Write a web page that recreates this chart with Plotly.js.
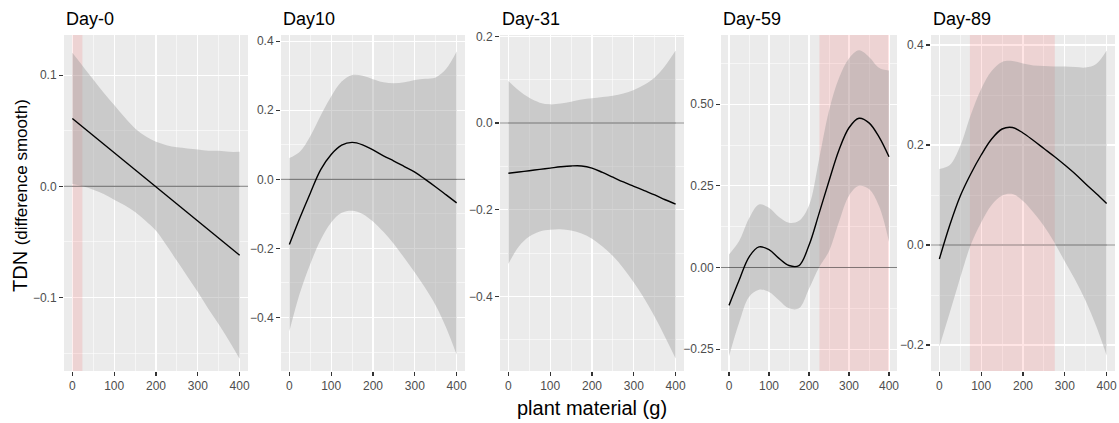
<!DOCTYPE html>
<html>
<head>
<meta charset="utf-8">
<script src="https://cdn.plot.ly/plotly-3.0.1.min.js"></script>
<style>html,body{margin:0;padding:0;background:#fff;}#chart{width:1119px;height:423px;}</style>
</head>
<body>
<div id="chart"></div>
<script>
// ---------- data ----------
const xs = [0,25,50,75,100,125,150,175,200,225,250,275,300,325,350,375,400];
const xsLinear = [0,400];

const panelTitles = ['Day-0','Day10','Day-31','Day-59','Day-89'];

const day0Fit   = [0.061,-0.062];
const day0Upper = [0.120,0.108,0.096,0.084,0.073,0.062,0.052,0.045,0.040,0.037,0.035,0.034,0.033,0.032,0.032,0.031,0.031];
const day0Lower = [0.002,0.000,-0.003,-0.007,-0.012,-0.017,-0.023,-0.031,-0.040,-0.053,-0.067,-0.081,-0.095,-0.110,-0.124,-0.139,-0.155];

const day10Fit   = [-0.189,-0.112,-0.040,0.028,0.072,0.099,0.107,0.100,0.085,0.068,0.053,0.037,0.021,0.000,-0.022,-0.045,-0.068];
const day10Upper = [0.062,0.080,0.125,0.185,0.240,0.283,0.302,0.300,0.290,0.281,0.278,0.281,0.288,0.291,0.295,0.320,0.370];
const day10Lower = [-0.440,-0.330,-0.245,-0.175,-0.125,-0.097,-0.091,-0.100,-0.122,-0.152,-0.187,-0.228,-0.270,-0.315,-0.365,-0.430,-0.508];

const day31Fit   = [-0.116,-0.113,-0.110,-0.107,-0.104,-0.101,-0.099,-0.099,-0.104,-0.114,-0.125,-0.136,-0.146,-0.156,-0.166,-0.177,-0.187];
const day31Upper = [0.097,0.075,0.058,0.047,0.043,0.045,0.049,0.054,0.057,0.060,0.063,0.068,0.076,0.088,0.105,0.132,0.167];
const day31Lower = [-0.325,-0.285,-0.262,-0.250,-0.246,-0.245,-0.248,-0.255,-0.267,-0.285,-0.307,-0.335,-0.368,-0.405,-0.447,-0.494,-0.543];

const day59Fit   = [-0.116,-0.040,0.032,0.063,0.055,0.028,0.006,0.006,0.068,0.165,0.265,0.360,0.428,0.457,0.443,0.400,0.339];
const day59Upper = [0.040,0.080,0.150,0.193,0.183,0.155,0.137,0.143,0.190,0.330,0.480,0.580,0.640,0.665,0.645,0.612,0.603];
const day59Lower = [-0.272,-0.170,-0.090,-0.068,-0.075,-0.100,-0.125,-0.125,-0.065,0.000,0.050,0.140,0.220,0.250,0.240,0.188,0.078];

const day89Fit   = [-0.028,0.040,0.098,0.142,0.180,0.212,0.232,0.235,0.224,0.209,0.193,0.177,0.160,0.142,0.122,0.103,0.083];
const day89Upper = [0.152,0.160,0.198,0.260,0.312,0.348,0.366,0.368,0.363,0.359,0.358,0.357,0.357,0.356,0.355,0.362,0.389];
const day89Lower = [-0.203,-0.135,-0.065,0.000,0.045,0.080,0.099,0.102,0.088,0.065,0.038,0.005,-0.033,-0.070,-0.112,-0.162,-0.221];

const fitXs  = [xsLinear, xs, xs, xs, xs];
const fits   = [day0Fit, day10Fit, day31Fit, day59Fit, day89Fit];
const uppers = [day0Upper, day10Upper, day31Upper, day59Upper, day89Upper];
const lowers = [day0Lower, day10Lower, day31Lower, day59Lower, day89Lower];

// significance regions (x start, x end), null = none
const sigStart = [0, null, null, 226, 73];
const sigEnd   = [24, null, null, 400, 276];

const xTickVals = [0,100,200,300,400];
const xMinorVals = [50,150,250,350];
const yTickVals = [
  [-0.1,0,0.1],
  [-0.4,-0.2,0,0.2,0.4],
  [-0.4,-0.2,0,0.2],
  [-0.25,0,0.25,0.5],
  [-0.2,0,0.2,0.4]
];
const yMinorVals = [
  [-0.15,-0.05,0.05],
  [-0.5,-0.3,-0.1,0.1,0.3],
  [-0.5,-0.3,-0.1,0.1],
  [-0.125,0.125,0.375,0.625],
  [-0.1,0.1,0.3]
];
const yTickFmt = ['.1f','.1f','.1f','.2f','.1f'];

// ---------- layout geometry ----------
const W = 1119, H = 423;
const panelPx = [[64,248],[281,465],[500,684],[721,897],[931,1115]];
const yRanges = [[-0.166,0.136],[-0.555,0.418],[-0.572,0.203],[-0.317,0.712],[-0.252,0.42]];
const plotTop = 35, plotBottom = 371;
const yDom = [1 - plotBottom/H, 1 - plotTop/H];

const FONT = 'Liberation Sans, Arial, Helvetica, sans-serif';
const traces = [];
const shapes = [];
const annotations = [];
const layout = {
  width: W, height: H,
  margin: {l:0, r:0, t:0, b:0},
  paper_bgcolor: '#ffffff',
  plot_bgcolor: '#EBEBEB',
  showlegend: false,
  font: {family: FONT, color: '#4D4D4D', size: 12},
};

for (let i = 0; i < 5; i++) {
  const n = i === 0 ? '' : String(i+1);
  const xa = 'x' + n, ya = 'y' + n;

  // significance band (drawn above the grid, below the ribbon)
  if (sigStart[i] !== null) {
    const r = yRanges[i];
    traces.push({x: [sigStart[i], sigEnd[i], sigEnd[i], sigStart[i], sigStart[i]],
      y: [r[0], r[0], r[1], r[1], r[0]], xaxis: xa, yaxis: ya,
      type: 'scatter', mode: 'lines', fill: 'toself', fillcolor: 'rgba(255,0,0,0.1)',
      line: {width: 0}, hoverinfo: 'skip'});
  }

  traces.push({x: xs, y: lowers[i], xaxis: xa, yaxis: ya, type: 'scatter', mode: 'lines',
    line: {width: 0, shape: 'spline', smoothing: 1}, hoverinfo: 'skip'});
  traces.push({x: xs, y: uppers[i], xaxis: xa, yaxis: ya, type: 'scatter', mode: 'lines',
    fill: 'tonexty', fillcolor: 'rgba(153,153,153,0.4)',
    line: {width: 0, shape: 'spline', smoothing: 1}, hoverinfo: 'skip'});
  traces.push({x: fitXs[i], y: fits[i], xaxis: xa, yaxis: ya, type: 'scatter', mode: 'lines',
    line: {color: '#000000', width: 1.4, shape: 'spline', smoothing: 1}});

  layout['xaxis' + n] = {
    domain: [panelPx[i][0]/W, panelPx[i][1]/W],
    anchor: ya, range: [-20, 420],
    tickmode: 'array', tickvals: xTickVals,
    ticks: 'outside', ticklen: 4, tickwidth: 1.07, tickcolor: '#333333',
    showgrid: true, gridcolor: '#FFFFFF', gridwidth: 1.07,
    minor: {tickmode: 'array', tickvals: xMinorVals, showgrid: true, gridcolor: '#FFFFFF', gridwidth: 0.55, ticks: ''},
    zeroline: false, showline: false,
    tickfont: {family: FONT, size: 12, color: '#4D4D4D'},
    fixedrange: true
  };
  layout['yaxis' + n] = {
    domain: yDom, anchor: xa, range: yRanges[i],
    tickmode: 'array', tickvals: yTickVals[i], tickformat: yTickFmt[i],
    ticks: 'outside', ticklen: 4, tickwidth: 1.07, tickcolor: '#333333',
    showgrid: true, gridcolor: '#FFFFFF', gridwidth: 1.07,
    minor: {tickmode: 'array', tickvals: yMinorVals[i], showgrid: true, gridcolor: '#FFFFFF', gridwidth: 0.55, ticks: ''},
    zeroline: false, showline: false,
    tickfont: {family: FONT, size: 12, color: '#4D4D4D'},
    fixedrange: true
  };

  shapes.push({type: 'line', xref: xa, yref: ya, x0: -20, x1: 420, y0: 0, y1: 0,
    line: {color: 'rgba(0,0,0,0.5)', width: 1}, layer: 'above'});

  annotations.push({text: panelTitles[i], xref: 'paper', yref: 'paper',
    x: panelPx[i][0]/W, y: 1 - 19/H, xanchor: 'left', yanchor: 'middle',
    showarrow: false, font: {family: FONT, size: 18, color: '#000000'}});
}

annotations.push({text: 'plant material (g)', xref: 'paper', yref: 'paper',
  x: 592/W, y: 1 - 408/H, xanchor: 'center', yanchor: 'middle', showarrow: false,
  font: {family: FONT, size: 20, color: '#000000'}});
annotations.push({text: 'TDN <span style="font-size:17px">(difference smooth)</span>', xref: 'paper', yref: 'paper',
  x: 20/W, y: 1 - 196/H, xanchor: 'center', yanchor: 'middle', showarrow: false, textangle: -90,
  font: {family: FONT, size: 20, color: '#000000'}});

layout.shapes = shapes;
layout.annotations = annotations;

Plotly.newPlot('chart', traces, layout, {staticPlot: true, displayModeBar: false});
</script>
</body>
</html>
